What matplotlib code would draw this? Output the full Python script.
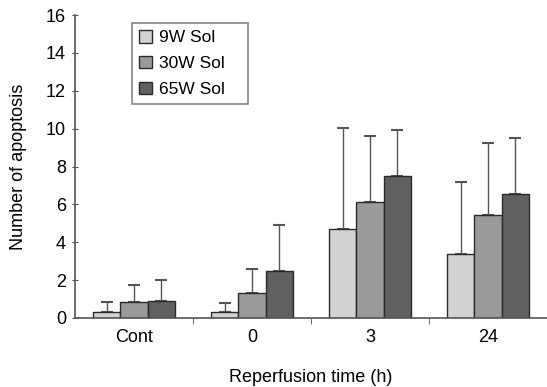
import matplotlib
matplotlib.use("Agg")
import matplotlib.pyplot as plt
import numpy as np
from matplotlib.ticker import FixedLocator

plt.rcParams['font.family'] = ['Liberation Sans', 'DejaVu Sans']

categories = ["Cont", "0", "3", "24"]
series = ["9W Sol", "30W Sol", "65W Sol"]
means = {
    "9W Sol": [0.32, 0.30, 4.7, 3.4],
    "30W Sol": [0.85, 1.3, 6.1, 5.45],
    "65W Sol": [0.9, 2.5, 7.5, 6.55],
}
err_tops = {
    "9W Sol": [0.85, 0.8, 10.05, 7.2],
    "30W Sol": [1.75, 2.6, 9.6, 9.25],
    "65W Sol": [2.0, 4.9, 9.95, 9.5],
}
colors = ["#d2d2d2", "#9a9a9a", "#606060"]

fig = plt.figure(figsize=(5.47, 3.87), dpi=100)
ax = fig.add_axes([75/547, 1-318/387, 472/547, 303/387])

x = np.arange(len(categories))
w = 0.23
for i, s in enumerate(series):
    pos = x + (i - 1) * w
    m = np.array(means[s])
    e = np.array(err_tops[s]) - m
    ax.bar(pos, m, width=w, color=colors[i], edgecolor="#2a2a2a", linewidth=1.0,
           label=s, zorder=2)
    ax.errorbar(pos, m, yerr=[np.zeros_like(e), e], fmt='none', ecolor="#555555",
                elinewidth=1.0, capsize=4.5, capthick=1.5, zorder=1)

ax.set_xlim(-0.5, 3.5)
ax.set_ylim(0, 16)
ax.set_yticks(np.arange(0, 17, 2))
ax.set_xticks(x)
ax.set_xticklabels(categories)
ax.xaxis.set_minor_locator(FixedLocator([0.5, 1.5, 2.5, 3.5]))
ax.tick_params(axis='x', which='major', length=0, labelsize=13, pad=8)
ax.tick_params(axis='x', which='minor', length=4, direction='out', color="#555555")
ax.tick_params(axis='y', length=5, direction='inout', labelsize=13, color="#555555", pad=4)
for sp in ["top", "right"]:
    ax.spines[sp].set_visible(False)
for sp in ["left", "bottom"]:
    ax.spines[sp].set_color("#555555")
    ax.spines[sp].set_linewidth(1.2)

ax.set_xlabel("Reperfusion time (h)", fontsize=13, va="center")
ax.xaxis.set_label_coords(0.5, (318 - 378) / 303)
ax.set_ylabel("Number of apoptosis", fontsize=13, va="center")
ax.yaxis.set_label_coords((19 - 75) / 472, 0.5)

leg = ax.legend(loc="upper left",
                bbox_to_anchor=((132 - 75) / 472, 1 - (23 - 15) / 303, 116 / 472, 0),
                mode="expand", fontsize=12.5,
                frameon=True, fancybox=False, edgecolor="#666666",
                handlelength=0.75, handleheight=0.75, handletextpad=0.4,
                borderpad=0.4, labelspacing=0.6, borderaxespad=0)
leg.get_frame().set_linewidth(1.2)

fig.savefig("out.png", dpi=100)
